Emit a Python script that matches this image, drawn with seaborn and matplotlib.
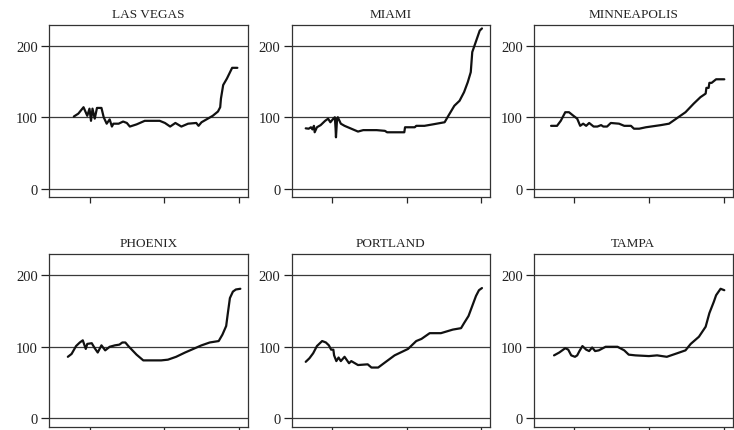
import matplotlib
matplotlib.use('Agg')

import matplotlib.pyplot as plt
import seaborn as sns
import pandas as pd

# house price index by metro
cities = ["LAS VEGAS", "MIAMI", "MINNEAPOLIS", "PHOENIX", "PORTLAND", "TAMPA"]

lv_years = [1982.9, 1983.5, 1984.2, 1984.7, 1985.0, 1985.2, 1985.4, 1985.7, 1986.0, 1986.6,
            1986.9, 1987.3, 1987.7, 1988.0, 1988.2, 1988.9, 1989.5, 1990.0, 1990.4, 1991.3,
            1992.4, 1994.4, 1995.1, 1995.8, 1996.5, 1997.3, 1998.2, 1999.3, 1999.6, 2000.0,
            2001.5, 2002.2, 2002.5, 2002.6, 2002.9, 2003.4, 2004.1, 2004.8]
lv_index = [101, 105, 114, 102, 112, 95, 112, 98, 113, 113,
            100, 91, 97, 87, 91, 91, 94, 92, 87, 90,
            95, 95, 92, 87, 92, 87, 91, 92, 88, 93,
            102, 108, 114, 126, 145, 154, 169, 169]

mia_years = [1981.5, 1981.9, 1982.2, 1982.4, 1982.6, 1982.7, 1983.0, 1983.5, 1984.1, 1984.5,
             1984.8, 1985.2, 1985.4, 1985.5, 1985.55, 1985.7, 1985.8, 1986.2, 1986.7, 1987.6,
             1988.5, 1989.2, 1991.0, 1992.1, 1992.4, 1994.7, 1994.8, 1996.1, 1996.3, 1997.4,
             1998.5, 2000.1, 2000.6, 2001.4, 2002.1, 2002.7, 2003.2, 2003.6, 2003.8, 2004.3,
             2004.8, 2005.1]
mia_index = [84.5, 84, 86, 83, 88, 79, 86, 89, 95, 98,
             93, 98, 100, 84, 72, 98, 100, 91, 88, 84,
             80, 82, 82, 81, 79, 79, 86, 86, 88, 88,
             90, 93, 102, 116, 123, 135, 149, 163, 191, 206,
             221, 224]

msp_years = [1981.9, 1982.7, 1983.2, 1983.8, 1984.3, 1984.9, 1985.4, 1985.8, 1986.2, 1986.6,
             1987.0, 1987.6, 1988.1, 1988.6, 1988.9, 1989.4, 1989.9, 1991.0, 1991.7, 1992.6,
             1993.0, 1993.7, 1994.6, 1996.6, 1997.7, 1998.8, 1999.9, 2001.0, 2001.9, 2002.6,
             2002.7, 2003.0, 2003.1, 2003.4, 2004.0, 2005.1]
msp_index = [88, 88, 95, 107, 107, 102, 98, 88, 91, 88,
             92, 87, 87, 89, 87, 87, 92, 91, 88, 88,
             84, 84, 86, 89, 91, 99, 107, 119, 128, 133,
             141, 141, 148, 148, 153, 153]

phx_years = [1982.1, 1982.6, 1983.2, 1983.7, 1984.1, 1984.3, 1984.5, 1984.7, 1985.3, 1985.7,
             1986.1, 1986.6, 1987.1, 1987.7, 1988.4, 1989.0, 1989.4, 1989.8, 1990.2, 1991.3,
             1992.2, 1993.5, 1994.6, 1995.5, 1996.6, 1997.8, 1998.9, 2000.0, 2001.1, 2002.3,
             2002.8, 2003.3, 2003.5, 2003.8, 2004.2, 2004.6, 2005.2]
phx_index = [86, 90, 101, 106, 109, 103, 97, 104, 105, 98,
             92, 102, 95, 100, 102, 103, 106, 106, 101, 89,
             81, 81, 81, 82, 86, 92, 97, 102, 106, 108,
             117, 129, 145, 168, 177, 180, 181]

pdx_years = [1981.5, 1982.0, 1982.5, 1983.0, 1983.7, 1984.2, 1984.6, 1984.9, 1985.2, 1985.3,
             1985.6, 1985.9, 1986.2, 1986.7, 1987.3, 1987.6, 1988.5, 1989.8, 1990.3, 1991.2,
             1992.1, 1993.4, 1995.2, 1996.3, 1997.0, 1998.1, 1999.6, 2001.2, 2002.3, 2002.7,
             2003.3, 2003.8, 2004.3, 2004.7, 2005.1]
pdx_index = [79, 84, 91, 101, 108, 106, 102, 96, 96, 88,
             80, 85, 80, 86, 77, 80, 74.5, 75.5, 71, 71,
             78, 88, 97, 108, 111, 119, 119, 124, 126, 133,
             143, 157, 171, 179, 182]

tpa_years = [1982.3, 1983.0, 1983.8, 1984.2, 1984.6, 1985.1, 1985.4, 1985.7, 1986.1, 1986.6,
             1987.0, 1987.4, 1987.8, 1988.3, 1989.2, 1990.8, 1991.7, 1992.3, 1993.2, 1995.0,
             1996.1, 1997.4, 1998.8, 1999.9, 2000.6, 2001.7, 2002.6, 2003.1, 2003.7, 2004.0,
             2004.6, 2005.1]
tpa_index = [88, 92, 98, 96, 88, 86, 88, 94, 101, 96,
             94, 99, 94, 95, 100, 100, 95, 89, 88, 87,
             88, 86, 91, 95, 104, 114, 128, 147, 163, 172,
             181, 179]

year_ticks = [1985, 1995, 2005]
index_ticks = [0, 100, 200]

series = {
    "LAS VEGAS": (lv_years, lv_index),
    "MIAMI": (mia_years, mia_index),
    "MINNEAPOLIS": (msp_years, msp_index),
    "PHOENIX": (phx_years, phx_index),
    "PORTLAND": (pdx_years, pdx_index),
    "TAMPA": (tpa_years, tpa_index),
}

sns.set_style("white")
plt.rcParams['font.family'] = ['Liberation Serif', 'DejaVu Serif']

fig, axes = plt.subplots(2, 3, figsize=(7.34, 4.31), dpi=100)
fig.subplots_adjust(left=0.067, right=0.998, top=0.94, bottom=0.007,
                    wspace=0.22, hspace=0.33)

for ax, city in zip(axes.flat, cities):
    yrs, idx = series[city]
    df = pd.DataFrame({"year": yrs, "index": idx})
    for v in index_ticks:
        ax.axhline(v, color="#3a3a3a", lw=0.9, zorder=1)
    sns.lineplot(data=df, x="year", y="index", ax=ax, color="#111111",
                 lw=1.6, sort=False, zorder=3)
    ax.set_xlim(1979.6, 2006.2)
    ax.set_ylim(-12, 229)
    ax.set_xticks(year_ticks)
    ax.set_xticklabels([])
    ax.set_yticks(index_ticks)
    ax.set_xlabel("")
    ax.set_ylabel("")
    ax.set_title(city, fontsize=9.5, pad=6, color="#222222")
    ax.tick_params(axis="y", direction="out", length=6, width=0.9, pad=2,
                   labelsize=10.5, colors="#222222", left=True)
    ax.tick_params(axis="x", direction="out", length=4, width=0.9, bottom=True)
    for s in ax.spines.values():
        s.set_color("#333333")
        s.set_linewidth(0.9)

plt.savefig("out.png", dpi=100)
plt.close(fig)
